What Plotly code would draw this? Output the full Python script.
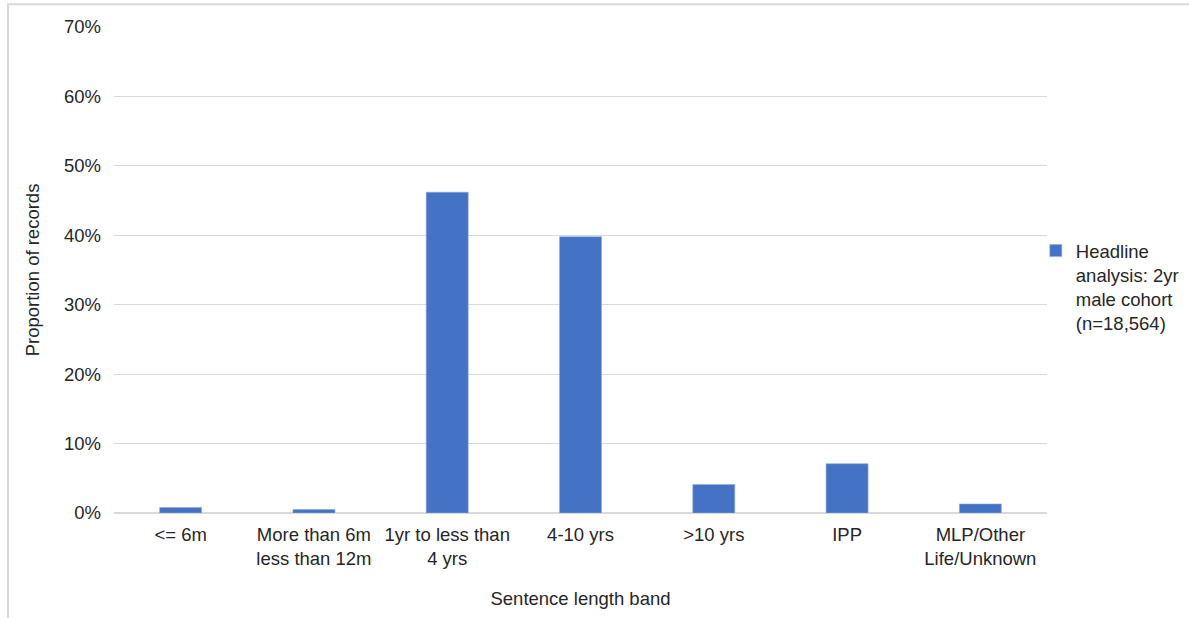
import plotly.graph_objects as go

# Sentence length bands and share of records in each
categories = [
    "<= 6m",
    "More than 6m<br>less than 12m",
    "1yr to less than<br>4 yrs",
    "4-10 yrs",
    ">10 yrs",
    "IPP",
    "MLP/Other<br>Life/Unknown",
]
proportions = [0.008, 0.005, 0.462, 0.398, 0.041, 0.071, 0.013]
series_name = "Headline<br>analysis: 2yr<br>male cohort<br>(n=18,564)"
y_ticks = [0, 0.1, 0.2, 0.3, 0.4, 0.5, 0.6, 0.7]

FONT = "Liberation Sans, Arial, sans-serif"
TEXT = "#262626"
BAR = "#4472c4"
GRID = "#d9d9d9"
FS = 18.5

fig = go.Figure()
fig.add_trace(go.Bar(
    x=categories,
    y=proportions,
    name=series_name,
    marker=dict(color=BAR, line=dict(color="#8faadc", width=0.6)),
    showlegend=True,
))

fig.update_layout(
    width=1189,
    height=618,
    margin=dict(l=114, r=142, t=27, b=105, autoexpand=False),
    paper_bgcolor="white",
    plot_bgcolor="white",
    bargap=0.685,
    font=dict(family=FONT, size=FS, color=TEXT),
    xaxis=dict(
        showgrid=False,
        showline=False,
        ticks="",
        ticklabelstandoff=8,
        tickfont=dict(size=FS, color=TEXT),
        title=dict(text="Sentence length band", font=dict(size=FS), standoff=24),
    ),
    yaxis=dict(
        range=[0, 0.7],
        tickvals=y_ticks,
        tickformat=".0%",
        showgrid=True,
        gridcolor=GRID,
        gridwidth=1.3,
        zeroline=True,
        zerolinecolor=GRID,
        zerolinewidth=2,
        showline=False,
        ticks="",
        ticklabelstandoff=12,
        tickfont=dict(size=FS, color=TEXT),
        title=dict(text="Proportion of records", font=dict(size=FS), standoff=19),
    ),
    legend=dict(
        x=0.988,
        y=0.578,
        xanchor="left",
        yanchor="top",
        valign="top",
        font=dict(size=FS, color=TEXT),
        itemwidth=30,
        bgcolor="rgba(0,0,0,0)",
    ),
    shapes=[
        dict(
            type="rect",
            xref="paper", yref="paper",
            x0=-0.1136, x1=1.3, y0=-0.4, y1=1.047,
            line=dict(color="#d9d9d9", width=2),
            layer="below",
        )
    ],
)

fig.write_html("out.html")
